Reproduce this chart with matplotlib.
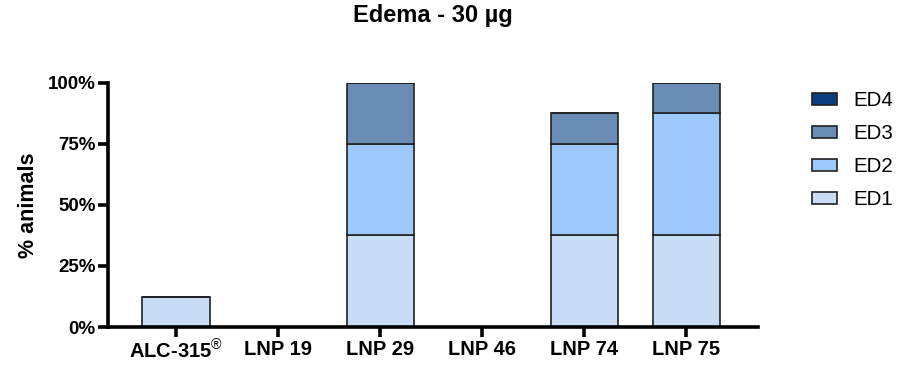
"""Stacked bar chart of edema scores per formulation."""

import matplotlib
matplotlib.use("Agg")
import matplotlib.pyplot as plt
from matplotlib.patches import Patch
import numpy as np

plt.rcParams["font.family"] = ["Liberation Sans", "DejaVu Sans"]
plt.rcParams["mathtext.fontset"] = "custom"
plt.rcParams["mathtext.rm"] = "Liberation Sans"
plt.rcParams["mathtext.bf"] = "Liberation Sans:bold"
plt.rcParams["mathtext.default"] = "regular"

groups = ["ALC-315$^{\\mathrm{®}}$", "LNP 19", "LNP 29", "LNP 46", "LNP 74", "LNP 75"]
ed1 = [12.5, 0, 37.5, 0, 37.5, 37.5]
ed2 = [0, 0, 37.5, 0, 37.5, 50.0]
ed3 = [0, 0, 25.0, 0, 12.5, 12.5]
ed4 = [0, 0, 0, 0, 0, 0]
series_names = ["ED1", "ED2", "ED3", "ED4"]
colors = ["#c9ddf6", "#9dc8fb", "#6a8db5", "#0c3e7e"]

fig = plt.figure(figsize=(9.09, 3.65), dpi=100)
ax = fig.add_axes([0.1188, 0.104, 0.715, 0.669])

x = np.arange(len(groups))
bottom = np.zeros(len(groups))
for name, vals, col in zip(series_names, [ed1, ed2, ed3, ed4], colors):
    vals = np.array(vals)
    ax.bar(x, vals, 0.66, bottom=bottom, color=col, edgecolor="#222222",
           linewidth=1.2, label=name)
    bottom += vals

ax.set_xlim(-0.667, 5.7)
ax.set_ylim(0, 100)
ax.set_yticks([0, 25, 50, 75, 100])
ax.set_yticklabels(["0%", "25%", "50%", "75%", "100%"], fontsize=13.5, fontweight="bold")
ax.set_xticks(x)
ax.set_xticklabels(groups, fontsize=14.5, fontweight="bold")
ax.set_ylabel("% animals", fontsize=15.5, fontweight="bold", labelpad=6)
ax.set_title("Edema - 30 µg", fontsize=17, fontweight="bold", pad=44)

for side in ["top", "right"]:
    ax.spines[side].set_visible(False)
for side in ["left", "bottom"]:
    ax.spines[side].set_linewidth(2.6)
ax.tick_params(axis="both", direction="out", length=7, width=2.6, pad=2)

handles = [Patch(facecolor=c, edgecolor="#222222", linewidth=1.2, label=n)
           for n, c in zip(series_names, colors)][::-1]
fig.legend(handles=handles, loc="upper left", bbox_to_anchor=(0.873, 0.80),
           frameon=False, fontsize=14.8, handlelength=1.22, handleheight=0.55,
           labelspacing=0.68, handletextpad=0.78)

fig.savefig("out.png", dpi=100)
